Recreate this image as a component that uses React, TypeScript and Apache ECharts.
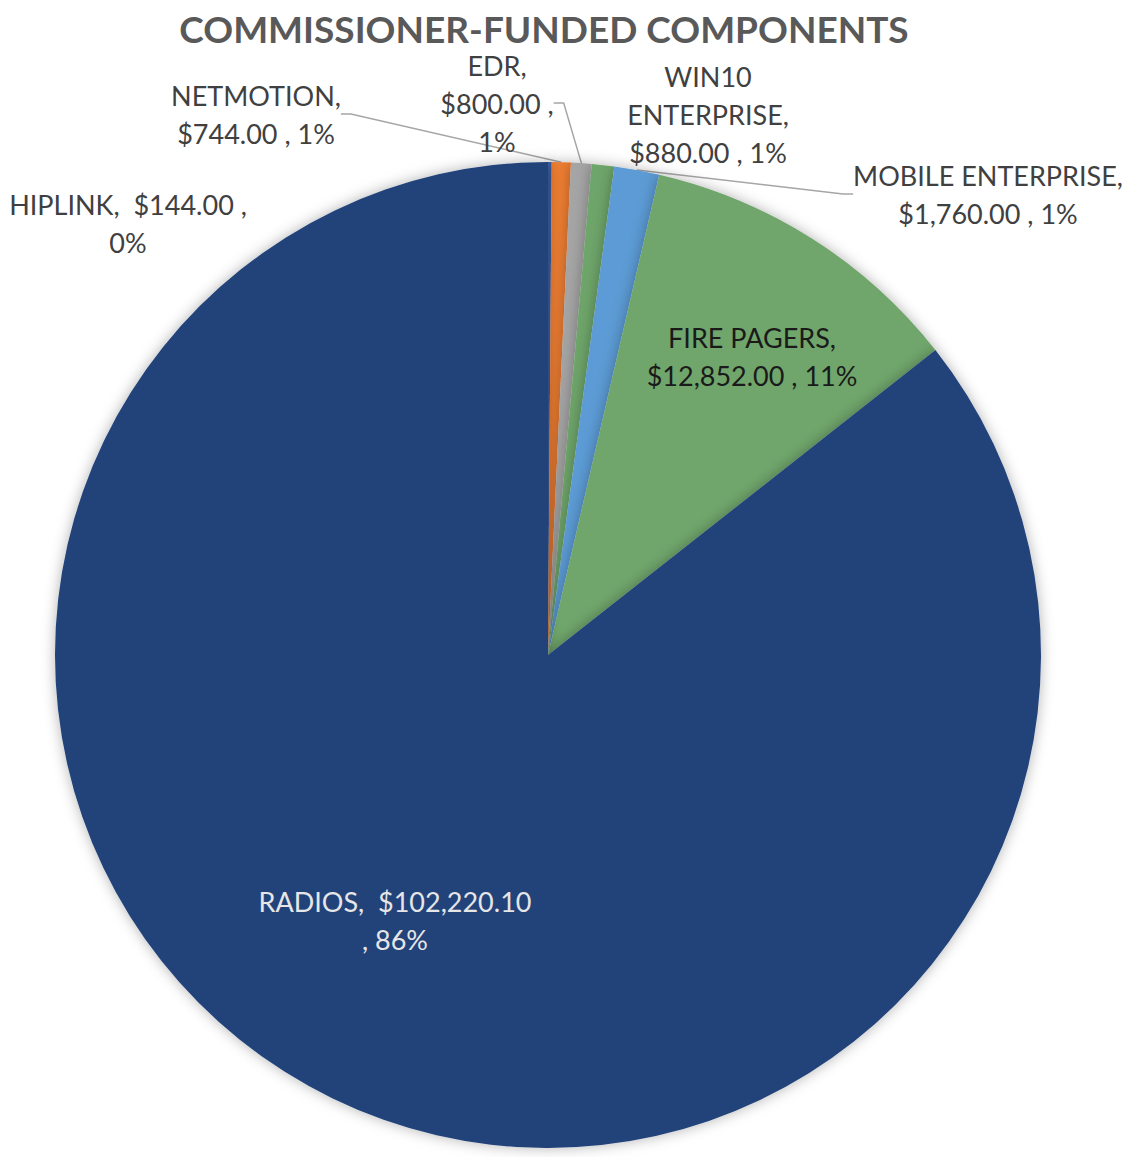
import React, { useEffect, useRef } from "react";
import * as echarts from "echarts";

const categories = ["HIPLINK", "NETMOTION", "EDR", "WIN10\nENTERPRISE", "MOBILE ENTERPRISE", "FIRE PAGERS", "RADIOS"];
const values = [144, 744, 800, 880, 1760, 12852, 102220.1];
const colors = ["#3f66b0", "#ed7d31", "#a5a5a5", "#6ea56a", "#5b9bd5", "#70a66c", "#22427a"];
const sep1 = ["  ", "\n", "\n", "\n", "\n", "\n", "  "];
const sep2 = [" ,\n", " , ", " ,\n", " , ", " , ", " , ", "\n, "];
const inside = [false, false, false, false, false, true, true];
const showLine = [false, true, true, false, true, false, false];
const labelColor = ["#404040", "#404040", "#404040", "#404040", "#404040", "#1a1a1a", "#e6e6e6"];
// label block centres (layout only)
const labelPos = [
  [128, 223],
  [256, 114],
  [497, 103],
  [708, 114],
  [988, 194],
  [752, 356],
  [395, 920],
];

const total = values.reduce((a, b) => a + b, 0);
const fmt = (v: number) =>
  "$" + v.toLocaleString("en-US", { minimumFractionDigits: 2, maximumFractionDigits: 2 });

export default function App() {
  const ref = useRef<HTMLDivElement>(null);
  useEffect(() => {
    const chart = echarts.init(ref.current!, null, { renderer: "svg" });
    chart.setOption({
      animation: false,
      backgroundColor: "#ffffff",
      title: {
        text: "COMMISSIONER-FUNDED COMPONENTS",
        left: 539,
        top: 5,
        textAlign: "center",
        textStyle: { fontFamily: "Lato", fontWeight: "bold", fontSize: 37, color: "#595959" },
      },
      series: [
        {
          type: "pie",
          center: [548, 655],
          radius: 493,
          startAngle: 90,
          clockwise: true,
          avoidLabelOverlap: false,
          itemStyle: { borderWidth: 0, shadowBlur: 14, shadowColor: "rgba(0,0,0,0.3)" },
          label: {
            fontFamily: "Lato",
            fontSize: 27,
            lineHeight: 38,
            align: "center",
          },
          labelLine: { lineStyle: { color: "#a6a6a6", width: 1.5 }, length: 10, length2: 10 },
          labelLayout: (p: any) => ({
            x: labelPos[p.dataIndex][0],
            y: labelPos[p.dataIndex][1],
            align: "center",
            verticalAlign: "middle",
          }),
          data: categories.map((name, i) => ({
            name,
            value: values[i],
            itemStyle: { color: colors[i] },
            label: {
              position: inside[i] ? "inside" : "outside",
              color: labelColor[i],
              formatter: () =>
                name + "," + sep1[i] + fmt(values[i]) + sep2[i] + Math.round((values[i] / total) * 100) + "%",
            },
            labelLine: { show: showLine[i] },
          })),
        },
      ],
    });
    return () => chart.dispose();
  }, []);
  return (
    <div
      ref={ref}
      style={{ position: "fixed", left: 0, top: 0, width: 1135, height: 1157 }}
    />
  );
}
